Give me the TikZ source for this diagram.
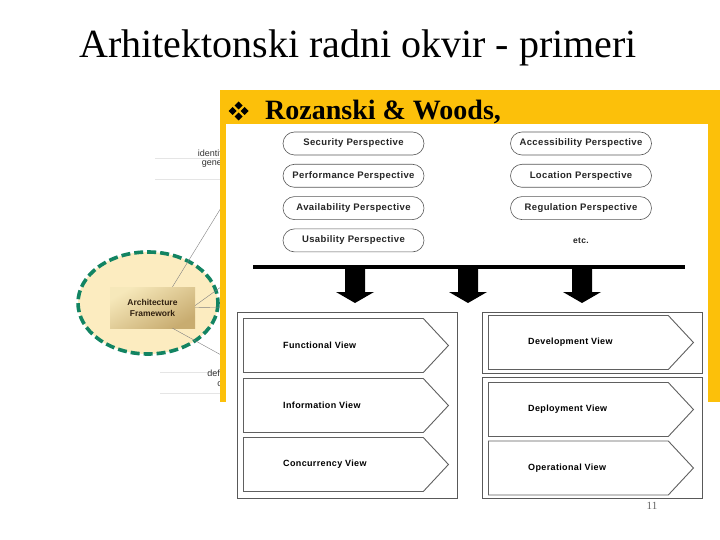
\documentclass[tikz,border=0pt]{standalone}
\usepackage{fontspec}
\setmainfont{Liberation Serif}
\setsansfont{Liberation Sans}
\newfontfamily\figfont[LetterSpace=4]{Liberation Sans}
\usetikzlibrary{arrows.meta, positioning, shapes.misc, shapes.symbols}

\definecolor{slideyellow}{RGB}{252,192,10}
\definecolor{ovalfill}{RGB}{252,236,192}
\definecolor{ovalgreen}{RGB}{18,132,98}
\definecolor{aflight}{RGB}{246,232,186}
\definecolor{afdark}{RGB}{200,172,112}

\begin{document}
\begin{tikzpicture}[x=1pt, y=-1pt,
    persp/.style={rounded rectangle, draw=gray!70!black, line width=0.6pt, fill=white,
        minimum width=141pt, minimum height=23pt, inner sep=0pt,
        font=\figfont\bfseries\fontsize{9.5}{11}\selectfont, text=black!85},
    viewarrow/.style={signal, signal to=east, signal pointer angle=94, draw=gray!75!black,
        line width=0.9pt, fill=white, minimum width=205pt, minimum height=54pt, inner sep=0pt,
        anchor=west},
    viewlabel/.style={font=\figfont\bfseries\fontsize{9}{10}\selectfont, inner sep=0pt, anchor=west},
    viewbox/.style={draw=gray!70!black, line width=0.7pt, fill=white},
    cuttext/.style={font=\sffamily\fontsize{9}{10}\selectfont, text=black!80, inner sep=0pt, anchor=east}]
    \useasboundingbox (0,0) rectangle (720,540);
    \fill[white] (0,0) rectangle (720,540);

    % Title
    \node[font=\fontsize{40}{48}\selectfont, anchor=base] (title) at (358,58) {Arhitektonski radni okvir - primeri};

    % Background picture (left, partly hidden)
    \draw[gray!20] (155,158) -- (221,158);
    \draw[gray!20] (155,179) -- (221,179);
    \draw[gray!20] (160,372) -- (221,372);
    \draw[gray!20] (160,393) -- (221,393);
    \node[cuttext] (idf) at (222,153) {identif};
    \node[cuttext] (gen) at (222,164) {gene};
    \node[cuttext] (dfi) at (222,373) {defi};
    \node[cuttext] (dfc) at (222,384) {c};

    \draw[ovalgreen, fill=ovalfill, line width=3.6pt, dash pattern=on 9pt off 4pt]
        (148,303) ellipse [x radius=70, y radius=51];
    \node[draw=none, top color=aflight, bottom color=afdark, shading angle=30,
        minimum width=85pt, minimum height=41pt, align=center,
        font=\sffamily\bfseries\fontsize{8.5}{11}\selectfont, text=black!75!brown] (af)
        at (152.5,307.5) {Architecture\\Framework};
    \coordinate (l1) at (232,190);
    \coordinate (l2) at (232,279);
    \coordinate (l3) at (232,307);
    \coordinate (l4) at (232,361);
    \draw[gray, line width=0.4pt] ([xshift=20pt]af.north) -- (l1);
    \draw[gray, line width=0.4pt] ([yshift=2pt]af.east) -- (l2);
    \draw[gray, line width=0.4pt] (af.east) -- (l3);
    \draw[gray, line width=0.4pt] ([xshift=20pt]af.south) -- (l4);

    % Yellow slide box
    \fill[slideyellow] (220,90) rectangle (720,402);
    \foreach \dx/\dy in {-6/0, 6/0, 0/-5.5, 0/5.5}
        \fill ({238.5+\dx},{111+\dy-4}) -- ({238.5+\dx+4},{111+\dy}) -- ({238.5+\dx},{111+\dy+4}) -- ({238.5+\dx-4},{111+\dy}) -- cycle;
    \node[font=\bfseries\fontsize{28}{32}\selectfont, anchor=base west, inner sep=0pt] (rw) at (265,120) {Rozanski \& Woods,};

    % Pasted figure
    \fill[white] (226,124) rectangle (708,505);

    % Perspectives
    \foreach \nm/\txt [count=\i] in {sec/Security, perf/Performance, avail/Availability, usab/Usability}
        \node[persp] (\nm) at (353.5,{143.5+32.3*(\i-1)}) {\txt\ Perspective};
    \foreach \nm/\txt [count=\i] in {acc/Accessibility, loc/Location, reg/Regulation}
        \node[persp] (\nm) at (581,{143.5+32.3*(\i-1)}) {\txt\ Perspective};
    \node[font=\figfont\bfseries\fontsize{8.5}{10}\selectfont, text=black!85] (etc) at (581,240.5) {etc.};

    % Bar and block arrows
    \coordinate (barL) at (253,267);
    \coordinate (barR) at (685,267);
    \draw[line width=4.5pt] (barL) -- (barR);
    \foreach \x in {355,468,582}
        \fill (\x-10,268) -- (\x+10,268) -- (\x+10,292) -- (\x+19,292) -- (\x,303)
            -- (\x-19,292) -- (\x-10,292) -- cycle;

    % Views
    \draw[viewbox] (237,312) rectangle (457,498);
    \draw[viewbox] (482,312) rectangle (702,373);
    \draw[viewbox] (482,377) rectangle (702,498);

    \node[viewarrow] (fv) at (243,345.5) {};
    \node[viewarrow] (iv) at (243,405.5) {};
    \node[viewarrow] (cv) at (243,464.5) {};
    \node[viewarrow] (dv) at (488,342.5) {};
    \node[viewarrow] (dpv) at (488,409.5) {};
    \node[viewarrow] (ov) at (488,468) {};

    \node[viewlabel, right=40pt of fv.west] (fvl) {Functional View};
    \node[viewlabel, right=40pt of iv.west] (ivl) {Information View};
    \node[viewlabel, right=40pt of cv.west] (cvl) {Concurrency View};
    \node[viewlabel, right=40pt of dv.west] (dvl) {Development View};
    \node[viewlabel, right=40pt of dpv.west] (dpvl) {Deployment View};
    \node[viewlabel, right=40pt of ov.west] (ovl) {Operational View};

    % Page number
    \node[font=\fontsize{11}{12}\selectfont, text=gray!80!black] (pg) at (652,506) {11};
\end{tikzpicture}
\end{document}
